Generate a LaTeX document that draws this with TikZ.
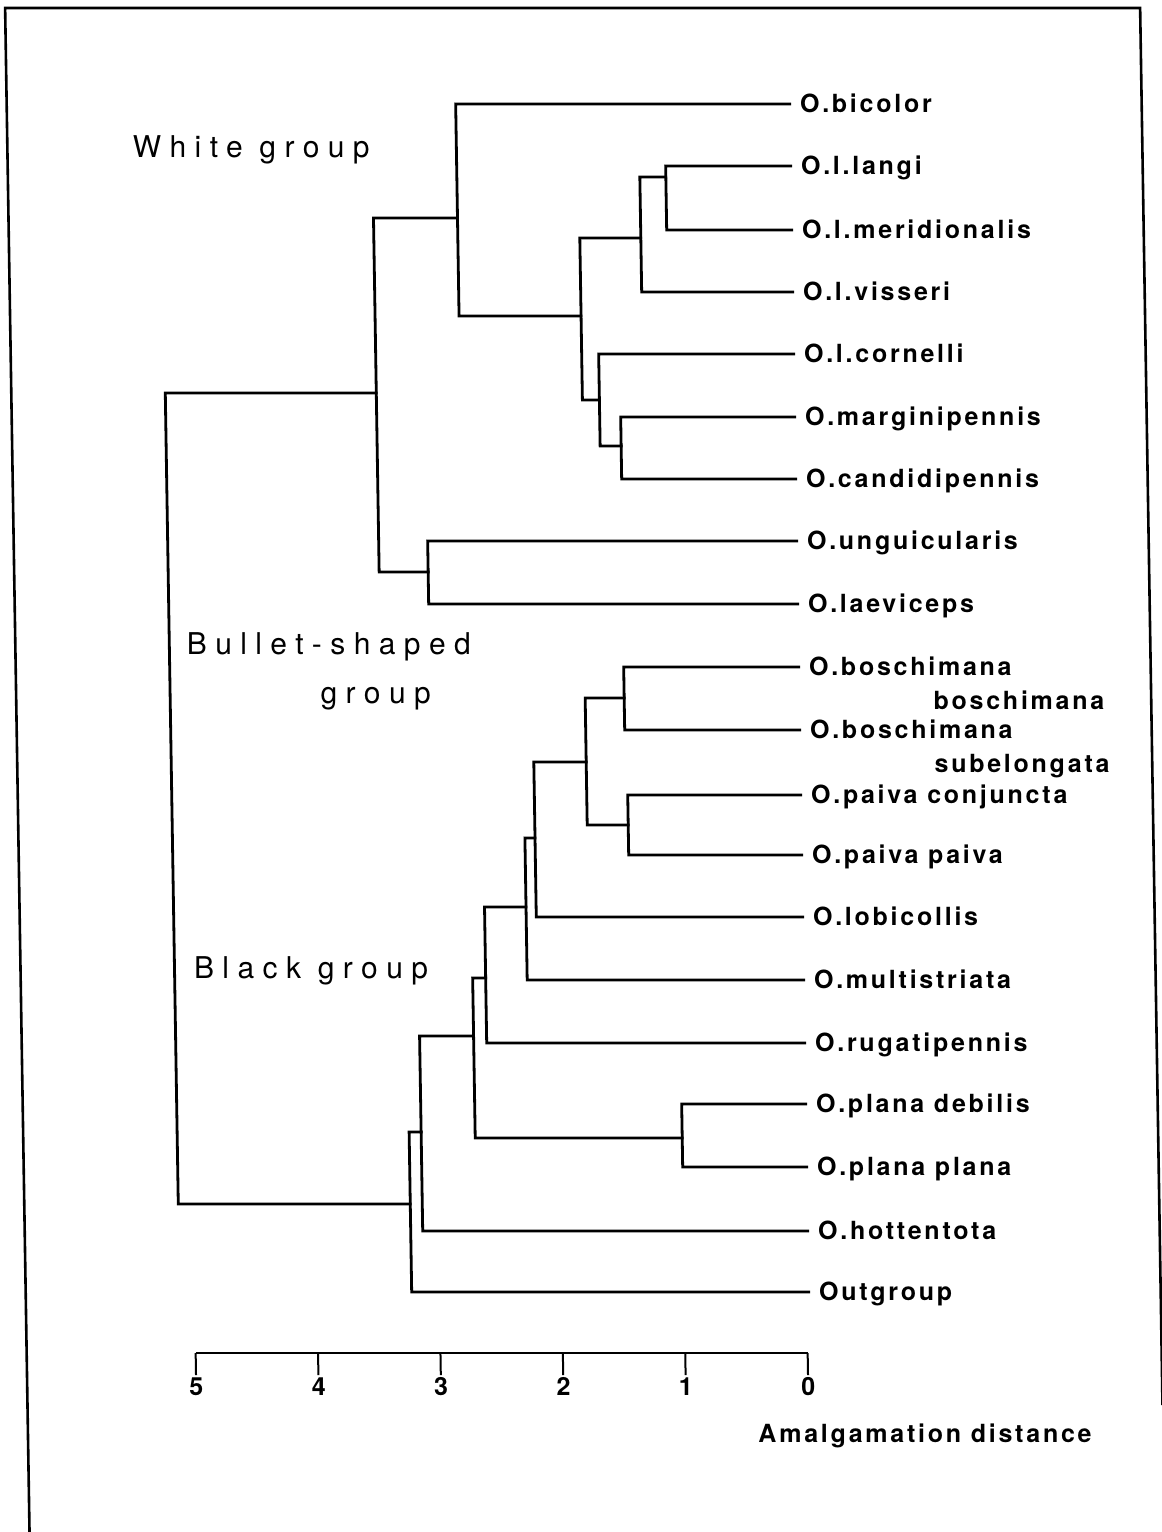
\documentclass[tikz,border=0pt]{standalone}
\usepackage{fontspec}
\setmainfont{TeX Gyre Heros}
\newfontfamily\taxafont[LetterSpace=11]{TeX Gyre Heros}
\newfontfamily\groupfont[LetterSpace=28]{TeX Gyre Heros}
\usetikzlibrary{positioning}

\tikzset{
  branch/.style={line width=1.4pt, line join=miter, line cap=rect},
  frame/.style={line width=1.3pt},
  axis/.style={line width=1pt},
  taxon/.style={font=\taxafont\bfseries\fontsize{12.5}{15}\selectfont, inner sep=0pt, anchor=base west},
  leaf/.style={taxon, yshift=-4pt},
  num/.style={font=\bfseries\fontsize{12.5}{15}\selectfont, inner sep=0pt, anchor=base},
  grouplabel/.style={font=\groupfont\fontsize{15}{18}\selectfont, inner sep=0pt, anchor=base west}
}

\begin{document}
\begin{tikzpicture}[x=0.5pt, y=-0.5pt]
  \useasboundingbox (0,0) rectangle (1162,1532);
  \begin{scope}[xslant=-0.016]
  \draw[frame] (5,1532) -- (5,8) -- (1140,8) -- (1140,1405);

  \coordinate (bic) at (788,104);
  \coordinate (lan) at (788,166);
  \coordinate (mer) at (788,230);
  \coordinate (vis) at (788,292);
  \coordinate (cor) at (788,354);
  \coordinate (mar) at (788,417);
  \coordinate (can) at (788,479);
  \coordinate (ung) at (788,541);
  \coordinate (lae) at (788,604);
  \coordinate (bbo) at (788,667);
  \coordinate (bsu) at (788,730);
  \coordinate (pco) at (788,795);
  \coordinate (ppa) at (788,855);
  \coordinate (lob) at (788,917);
  \coordinate (mul) at (788,980);
  \coordinate (rug) at (788,1043);
  \coordinate (pde) at (788,1104);
  \coordinate (ppl) at (788,1167);
  \coordinate (hot) at (788,1231);
  \coordinate (out) at (788,1292);

  \coordinate (root) at (159,800);
  \coordinate (whbul) at (370,393);
  \coordinate (white) at (454,218);
  \coordinate (wA) at (576,316);
  \coordinate (wB) at (637,238);
  \coordinate (wC) at (663,177);
  \coordinate (wD) at (593,400);
  \coordinate (wE) at (614,446);
  \coordinate (bullet) at (419,572);
  \coordinate (bA) at (391,1204);
  \coordinate (bB) at (403,1132);
  \coordinate (bC) at (457,1036);
  \coordinate (bD) at (470,978);
  \coordinate (bE) at (511.5,907);
  \coordinate (bF) at (521.6,838);
  \coordinate (bG) at (574,762);
  \coordinate (bH) at (613,698);
  \coordinate (bI) at (615,825);
  \coordinate (plana) at (664,1138);

  \draw[branch] (whbul) -| (root) |- (bA);
  \draw[branch] (white) -| (whbul) |- (bullet);
  \draw[branch] (bic) -| (white) |- (wA);
  \draw[branch] (wB) -| (wA) |- (wD);
  \draw[branch] (wC) -| (wB) |- (vis);
  \draw[branch] (lan) -| (wC) |- (mer);
  \draw[branch] (cor) -| (wD) |- (wE);
  \draw[branch] (mar) -| (wE) |- (can);
  \draw[branch] (ung) -| (bullet) |- (lae);
  \draw[branch] (bB) -| (bA) |- (out);
  \draw[branch] (bC) -| (bB) |- (hot);
  \draw[branch] (bD) -| (bC) |- (plana);
  \draw[branch] (bE) -| (bD) |- (rug);
  \draw[branch] (bF) -| (bE) |- (mul);
  \draw[branch] (bG) -| (bF) |- (lob);
  \draw[branch] (bH) -| (bG) |- (bI);
  \draw[branch] (bbo) -| (bH) |- (bsu);
  \draw[branch] (pco) -| (bI) |- (ppa);
  \draw[branch] (pde) -| (plana) |- (ppl);

  \node[leaf, base right=5pt of bic] (tbic) {O.bicolor};
  \node[leaf, base right=5pt of lan] (tlan) {O.l.langi};
  \node[leaf, base right=5pt of mer] (tmer) {O.l.meridionalis};
  \node[leaf, base right=5pt of vis] (tvis) {O.l.visseri};
  \node[leaf, base right=5pt of cor] (tcor) {O.l.cornelli};
  \node[leaf, base right=5pt of mar] (tmar) {O.marginipennis};
  \node[leaf, base right=5pt of can] (tcan) {O.candidipennis};
  \node[leaf, base right=5pt of ung] (tung) {O.unguicularis};
  \node[leaf, base right=5pt of lae] (tlae) {O.laeviceps};
  \node[leaf, base right=5pt of bbo] (tbbo) {O.boschimana};
  \node[taxon] (tbbo2) at ([xshift=62pt,yshift=-17pt]tbbo.base west) {boschimana};
  \node[leaf, base right=5pt of bsu] (tbsu) {O.boschimana};
  \node[taxon] (tbsu2) at ([xshift=62pt,yshift=-17pt]tbsu.base west) {subelongata};
  \node[leaf, base right=5pt of pco] (tpco) {O.paiva conjuncta};
  \node[leaf, base right=5pt of ppa] (tppa) {O.paiva paiva};
  \node[leaf, base right=5pt of lob] (tlob) {O.lobicollis};
  \node[leaf, base right=5pt of mul] (tmul) {O.multistriata};
  \node[leaf, base right=5pt of rug] (trug) {O.rugatipennis};
  \node[leaf, base right=5pt of pde] (tpde) {O.plana debilis};
  \node[leaf, base right=5pt of ppl] (tppl) {O.plana plana};
  \node[leaf, base right=5pt of hot] (thot) {O.hottentota};
  \node[leaf, base right=5pt of out] (tout) {Outgroup};

  \node[grouplabel] (gwhite) at (130,157) {White group};
  \node[grouplabel] (gbullet) at (176,654) {Bullet-shaped};
  \node[grouplabel] (gbullet2) at (309,703) {group};
  \node[grouplabel] (gblack) at (178,978) {Black group};

  \foreach \d in {0,...,5} {
    \coordinate (ax\d) at ({786-122.4*\d},1353);
    \draw[axis] (ax\d) -- ++(0,22) coordinate (tk\d);
    \node[num] (num\d) at ([yshift=-10pt]tk\d) {\d};
  }
  \draw[axis] (ax5) -- (ax0);
  \node[taxon] (axtitle) at (735,1442) {Amalgamation distance};
  \end{scope}
\end{tikzpicture}
\end{document}
